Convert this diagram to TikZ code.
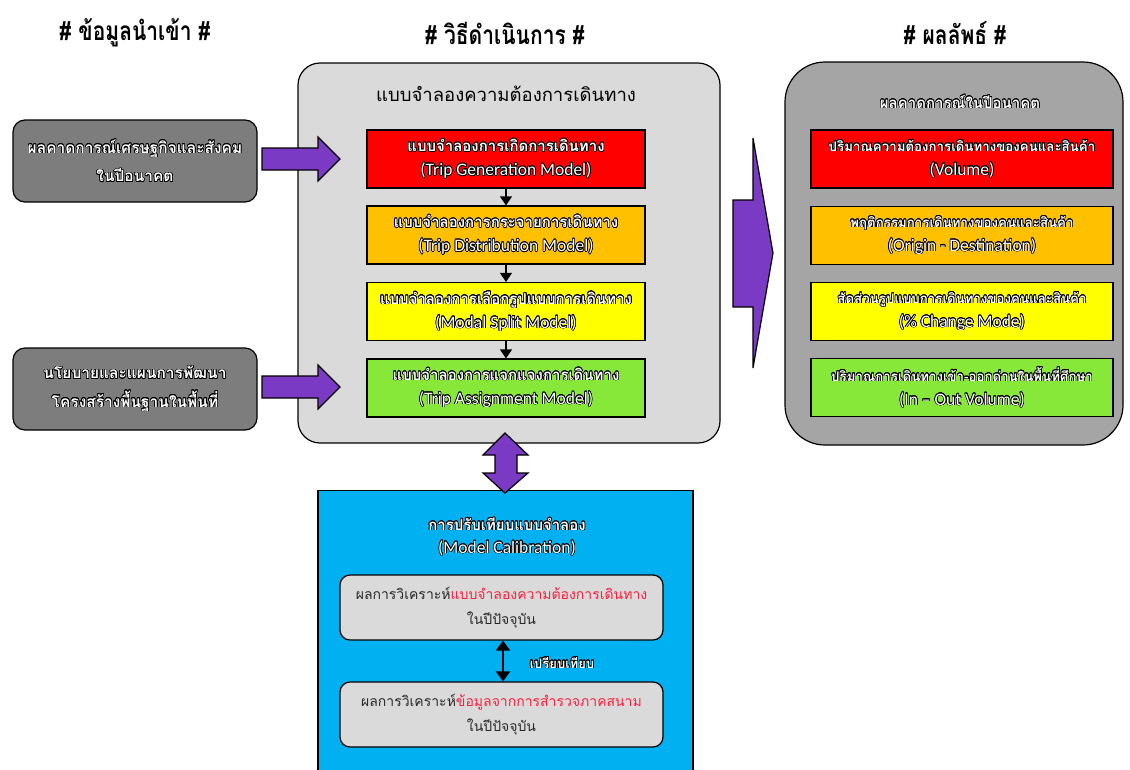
\documentclass[tikz,border=0pt]{standalone}
\usepackage{fontspec}
\usepackage{contour}
\setmainfont{Carlito}
\newfontfamily\thai[Script=Thai]{Loma}
\usetikzlibrary{arrows.meta}
\contourlength{0.6pt}
\contournumber{20}

\definecolor{panelgrey}{RGB}{218,218,218}
\definecolor{resultgrey}{RGB}{165,165,165}
\definecolor{inputgrey}{RGB}{125,125,125}
\definecolor{stepred}{RGB}{255,0,0}
\definecolor{steporange}{RGB}{255,192,0}
\definecolor{stepyellow}{RGB}{255,255,0}
\definecolor{stepgreen}{RGB}{136,232,58}
\definecolor{calblue}{RGB}{0,176,240}
\definecolor{blockpurple}{RGB}{122,58,196}
\definecolor{hilite}{RGB}{255,30,60}

% white lettering with a dark outline
\newcommand{\outl}[1]{\contour{black}{#1}}
% Thai line sizes for the model steps and the result boxes
\newcommand{\thmid}{\thai\bfseries\fontsize{15}{24}\selectfont}
\newcommand{\thres}{\thai\bfseries\fontsize{13.3}{24}\selectfont}

\tikzset{
  heading/.style={font=\thai\bfseries\fontsize{21}{24}\selectfont, text=black},
  inputbox/.style={draw=black, line width=1.2pt, fill=inputgrey, rounded corners=12pt,
    minimum width=244pt, minimum height=82pt, text=white, align=center,
    font=\thai\bfseries\fontsize{15.5}{28.5}\selectfont},
  stepbox/.style={draw=black, line width=1.2pt, minimum height=58pt, text=white,
    align=center, font=\fontsize{17.5}{24}\selectfont},
  calbox/.style={draw=black, line width=1.2pt, fill=panelgrey, rounded corners=10pt,
    minimum width=323pt, minimum height=65pt, align=center,
    font=\thai\fontsize{14}{25}\selectfont, text={rgb,255:red,40;green,40;blue,40}},
  blockarrow/.style={draw=black, line width=1.2pt, fill=blockpurple, line join=miter},
  smallarrow/.style={-{Triangle[length=9pt,width=12pt]}, line width=1.2pt, black},
}

\begin{document}
\begin{tikzpicture}[x=1pt,y=-1pt]
\useasboundingbox[fill=white] (0,0) rectangle (1130,769);

% column headings
\node[heading] (h1) at (135,33) {\scalebox{1}[1.25]{\# ข้อมูลนำเข้า \#}};
\node[heading] (h2) at (505,33) {\scalebox{1}[1.25]{\# วิธีดำเนินการ \#}};
\node[heading] (h3) at (955,33) {\scalebox{1}[1.25]{\# ผลลัพธ์ \#}};

% input boxes
\node[inputbox] (in1) at (135,161) {\outl{ผลคาดการณ์เศรษฐกิจและสังคม}\\\outl{ในปีอนาคต}};
\node[inputbox] (in2) at (135,389) {\outl{นโยบายและแผนการพัฒนา}\\\outl{โครงสร้างพื้นฐานในพื้นที่}};

% travel demand model panel
\node[draw=black, line width=1.2pt, fill=panelgrey, rounded corners=22pt,
  minimum width=422pt, minimum height=380pt] (model) at (509,253) {};
\node[font=\thai\fontsize{18.5}{24}\selectfont] (modeltitle) at (506,94) {แบบจำลองความต้องการเดินทาง};

\node[stepbox, fill=stepred, minimum width=278pt] (gen) at (506,159)
  {\outl{\thmid แบบจำลองการเกิดการเดินทาง}\\\outl{(Trip Generation Model)}};
\node[stepbox, fill=steporange, minimum width=278pt] (dist) at (506,235)
  {\outl{\thmid แบบจำลองการกระจายการเดินทาง}\\\outl{(Trip Distribution Model)}};
\node[stepbox, fill=stepyellow, minimum width=278pt] (split) at (506,311.5)
  {\outl{\thmid แบบจำลองการเลือกรูปแบบการเดินทาง}\\\outl{(Modal Split Model)}};
\node[stepbox, fill=stepgreen, minimum width=278pt] (assign) at (506,388)
  {\outl{\thmid แบบจำลองการแจกแจงการเดินทาง}\\\outl{(Trip Assignment Model)}};

\draw[smallarrow] (gen.south) -- (dist.north);
\draw[smallarrow] (dist.south) -- (split.north);
\draw[smallarrow] (split.south) -- (assign.north);

% results panel
\node[draw=black, line width=1.2pt, fill=resultgrey, rounded corners=40pt,
  minimum width=338pt, minimum height=383pt] (result) at (954,253.5) {};
\node[text=white, font=\thai\bfseries\fontsize{15}{24}\selectfont] (resulttitle) at (960,102)
  {\outl{ผลคาดการณ์ในปีอนาคต}};

\node[stepbox, fill=stepred, minimum width=302pt] (vol) at (962,159)
  {\outl{\thres ปริมาณความต้องการเดินทางของคนและสินค้า}\\\outl{(Volume)}};
\node[stepbox, fill=steporange, minimum width=302pt] (od) at (962,235.5)
  {\outl{\thres พฤติกรรมการเดินทางของคนและสินค้า}\\\outl{(Origin - Destination)}};
\node[stepbox, fill=stepyellow, minimum width=302pt] (mode) at (962,311.5)
  {\outl{\thres สัดส่วนรูปแบบการเดินทางของคนและสินค้า}\\\outl{(\% Change Mode)}};
\node[stepbox, fill=stepgreen, minimum width=302pt] (inout) at (962,387.5)
  {\outl{\thres ปริมาณการเดินทางเข้า-ออกด่านในพื้นที่ศึกษา}\\\outl{(In -- Out Volume)}};

% calibration panel
\node[draw=black, line width=1.2pt, fill=calblue, minimum width=375pt,
  minimum height=300pt, anchor=north] (calib) at (505.5,490) {};
\node[text=white, align=center, font=\fontsize{17.5}{23}\selectfont] (calibtitle) at (507,537)
  {\outl{\thai\bfseries\fontsize{15}{23}\selectfont การปรับเทียบแบบจำลอง}\\\outl{(Model Calibration)}};

\node[calbox] (cur) at (501.5,607.5)
  {ผลการวิเคราะห์\textcolor{hilite}{แบบจำลองความต้องการเดินทาง}\\ในปีปัจจุบัน};
\node[calbox] (field) at (501.5,714.5)
  {ผลการวิเคราะห์\textcolor{hilite}{ข้อมูลจากการสำรวจภาคสนาม}\\ในปีปัจจุบัน};
\draw[{Triangle[length=10pt,width=14pt]}-{Triangle[length=10pt,width=14pt]}, line width=2pt]
  (cur.south -| 503,0) -- (field.north -| 503,0);
\node[text=white, font=\thai\bfseries\fontsize{13}{16}\selectfont] (cmp) at (562,663) {\outl{เปรียบเทียบ}};

% block arrows
\filldraw[blockarrow] (262,148) -- (318,148) -- (318,137) -- (340,159) -- (318,181)
  -- (318,170) -- (262,170) -- cycle;
\filldraw[blockarrow] (262,376) -- (318,376) -- (318,365) -- (340,387) -- (318,409)
  -- (318,398) -- (262,398) -- cycle;
\filldraw[blockarrow] (733,200) -- (753,200) -- (753,138) -- (773,253) -- (753,368)
  -- (753,307) -- (733,307) -- cycle;
\filldraw[blockarrow] (505,433) -- (528,455) -- (517,455) -- (517,473) -- (528,473)
  -- (505,493) -- (483,473) -- (495,473) -- (495,455) -- (483,455) -- cycle;
\end{tikzpicture}
\end{document}
